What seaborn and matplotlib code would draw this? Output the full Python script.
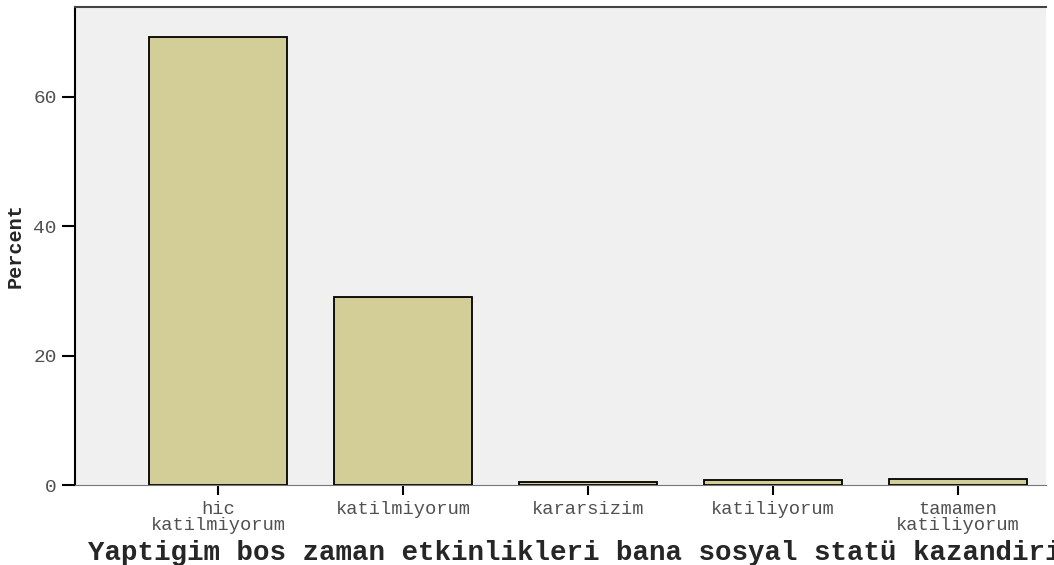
import pandas as pd
import matplotlib.pyplot as plt
import seaborn as sns

# ---------- data ----------
categories = ["hic\nkatilmiyorum", "katilmiyorum", "kararsizim", "katiliyorum", "tamamen\nkatiliyorum"]
percent = [69.2, 29.1, 0.4, 0.7, 1.0]

df = pd.DataFrame({"cat": categories, "pct": percent})

sns.set_style("white")
plt.rcParams["font.family"] = ["Liberation Mono", "DejaVu Sans Mono"]

fig = plt.figure(figsize=(10.54, 5.65), dpi=100)
ax = fig.add_axes([75 / 1054, 80 / 565, 971 / 1054, 478 / 565])
ax.set_facecolor("#f0f0f0")

sns.barplot(
    data=df, x="cat", y="pct", ax=ax,
    color="#d3ce97", saturation=1, width=0.746,
    edgecolor="black", linewidth=1.3
)

ax.set_xlim(-0.773, 4.476)
ax.set_ylim(0, 73.9)
ax.set_yticks([0, 20, 40, 60])

# spines
ax.spines["right"].set_visible(False)
ax.spines["left"].set_color("black")
ax.spines["left"].set_linewidth(1.5)
ax.spines["top"].set_color("#444444")
ax.spines["top"].set_linewidth(1.5)
ax.spines["bottom"].set_color("#777777")
ax.spines["bottom"].set_linewidth(0.8)

ax.tick_params(axis="y", length=9.5, width=1.5, color="black", pad=3.5,
               labelsize=14, labelcolor="#505050", left=True)
ax.tick_params(axis="x", length=7.5, width=1.5, color="black", pad=3.8,
               labelsize=13.5, labelcolor="#505050", bottom=True)
for lbl in ax.get_xticklabels():
    lbl.set_linespacing(0.95)

ax.set_ylabel("Percent", fontsize=14.5, fontweight="bold")
ax.yaxis.set_label_coords(-50 / 971, 0.5)

ax.set_xlabel("Yaptigim bos zaman etkinlikleri bana sosyal statü kazandirir",
              fontsize=19.8, fontweight="bold", ha="left")
ax.xaxis.set_label_coords(13 / 971, -55 / 478)

fig.savefig("out.png", dpi=100)
